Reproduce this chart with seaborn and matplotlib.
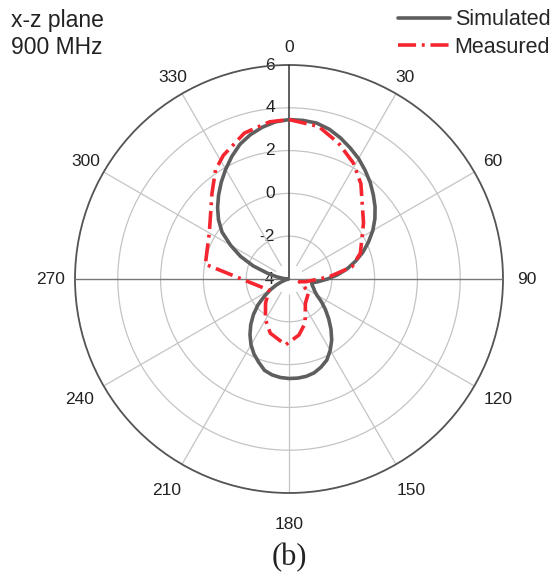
import numpy as np
import pandas as pd
import matplotlib
matplotlib.use("Agg")
import matplotlib.pyplot as plt
import matplotlib.transforms as mtransforms
from matplotlib.lines import Line2D
import seaborn as sns

# ---- data ----
sim_angle_deg = list(range(0, 361, 5))
sim_gain = [3.45, 3.44, 3.40, 3.25, 3.02, 2.76, 2.50, 2.20, 1.90, 1.57,   # 0-45
            1.25, 0.90, 0.52, 0.10, -0.32, -0.78, -1.23, -1.72, -2.20, -2.62,  # 50-95
            -2.92, -2.88, -2.78, -2.68, -2.50, -2.15, -1.78, -1.38, -0.95, -0.52,  # 100-145
            -0.15, 0.18, 0.38, 0.54, 0.62, 0.65, 0.65, 0.62, 0.55, 0.42,  # 150-195
            0.14, -0.13, -0.45, -0.82, -1.22, -1.65, -2.10, -2.60, -3.00, -3.35,  # 200-245
            -3.65, -3.85, -3.95, -3.97, -3.95, -3.75, -3.42, -2.96, -2.23, -1.50,  # 250-295
            -0.85, -0.18, 0.30, 0.72, 1.12, 1.52, 1.92, 2.32, 2.70, 2.98,  # 300-345
            3.20, 3.37, 3.45]  # 350-360

meas_angle_deg = [0, 11, 20, 29, 37, 53, 70, 79, 87, 99, 105, 123, 146, 160,
                  170, 183, 199, 210, 224, 241, 280, 300, 318, 326, 332, 343,
                  353, 360]
meas_gain = [3.45, 3.26, 2.76, 2.20, 1.58, 0.36, -0.45, -1.00, -2.13, -3.20,
             -3.50, -2.90, -2.63, -1.80, -1.34, -0.92, -1.32, -1.80, -2.42,
             -2.93, -0.03, 0.30, 1.38, 2.14, 2.54, 3.13, 3.40, 3.45]

angle_ticks = [0, 30, 60, 90, 120, 150, 180, 210, 240, 270, 300, 330]
r_ticks = [-4, -2, 0, 2, 4, 6]
series_names = ["Simulated", "Measured"]
annot_lines = ["x-z plane", "900 MHz"]
panel_label = "(b)"

sns.set_theme(style="white")
plt.rcParams["font.family"] = ["Liberation Sans", "DejaVu Sans"]

sim_df = pd.DataFrame({"theta": np.deg2rad(sim_angle_deg), "r": sim_gain})
meas_df = pd.DataFrame({"theta": np.deg2rad(meas_angle_deg), "r": meas_gain})

fig = plt.figure(figsize=(5.54, 5.86), dpi=100)
ax = fig.add_axes([75 / 554, 1 - 493 / 586, 428 / 554, 428 / 586], projection="polar")
ax.set_facecolor("white")
ax.set_theta_zero_location("N")
ax.set_theta_direction(-1)

sim_color = "#5e5e5e"
meas_color = "#f52630"
grid_color = "#c4c4c4"
dash_style = (0, (5, 1.6, 0.8, 1.6))

sns.lineplot(data=sim_df, x="theta", y="r", ax=ax, sort=False, color=sim_color,
             lw=2.6, legend=False, zorder=5)
sns.lineplot(data=meas_df, x="theta", y="r", ax=ax, sort=False, color=meas_color,
             lw=2.6, legend=False, zorder=6, linestyle=dash_style)

ax.set_rlim(-4, 6)
ax.set_xlabel("")
ax.set_ylabel("")

# angle ticks
ax.set_xticks(np.deg2rad(angle_ticks))
ax.set_xticklabels([str(a) for a in angle_ticks], fontsize=12.5, color="#222222")
ax.set_xticks(np.deg2rad(np.array(angle_ticks) + 15), minor=True)
ax.tick_params(axis="x", which="major", direction="in", length=6, width=1.0,
               color="#555555", pad=10.5)
ax.tick_params(axis="x", which="minor", direction="in", length=4, width=1.0,
               color="#555555")
for tick, a in zip(ax.xaxis.get_major_ticks(), angle_ticks):
    tick.set_pad(10.5 - 5.0 * np.cos(np.deg2rad(a)))

# radial ticks
ax.set_rlabel_position(0)
ax.set_yticks(r_ticks)
ax.set_yticklabels([str(v) for v in r_ticks], fontsize=12.5, color="#222222")
ax.set_yticks([-3, -1, 1, 3, 5], minor=True)
ax.tick_params(axis="y", which="major", direction="out", length=5, width=1.0,
               color="#333333")
ax.tick_params(axis="y", which="minor", direction="out", length=3, width=1.0,
               color="#333333")
shift = mtransforms.ScaledTranslation(-14 / 100, 0, fig.dpi_scale_trans)
for lbl in ax.get_yticklabels():
    lbl.set_horizontalalignment("right")
    lbl.set_verticalalignment("center")
    lbl.set_transform(lbl.get_transform() + shift)

# grid: circles from the radial axis, spokes stop short of the centre
ax.yaxis.grid(True, color=grid_color, lw=0.9)
ax.xaxis.grid(False)
spoke_angles = [a for a in angle_ticks if a not in (0, 90, 270)]
ax.vlines(np.deg2rad(spoke_angles), -3.3, 6, color=grid_color, lw=0.9, zorder=1)
ax.spines["polar"].set_color("#555555")
ax.spines["polar"].set_linewidth(1.3)

# axis lines
ax.axvline(0, color="#333333", lw=1.1, zorder=3)
ax.axvline(np.pi / 2, color="#777777", lw=1.0, zorder=3)
ax.axvline(3 * np.pi / 2, color="#777777", lw=1.0, zorder=3)

# legend
handles = [Line2D([], [], color=sim_color, lw=2.6),
           Line2D([], [], color=meas_color, lw=2.6, linestyle=dash_style)]
fig.legend(handles, series_names, loc="upper right", bbox_to_anchor=(1.005, 0.995),
           frameon=False, fontsize=15.5, handlelength=2.45, handletextpad=0.2,
           labelspacing=0.3, borderaxespad=0.1, borderpad=0.2)

fig.text(11 / 554, 1 - 21 / 586, annot_lines[0], fontsize=16.5, va="center", ha="left",
         color="#222222")
fig.text(11 / 554, 1 - 48 / 586, annot_lines[1], fontsize=16.5, va="center", ha="left",
         color="#222222")
fig.text(289 / 554, 1 - 558 / 586, panel_label, fontsize=22, va="center", ha="center",
         family=["Liberation Serif", "DejaVu Serif"], color="#222222")

fig.savefig("out.png", dpi=100, facecolor="white")
